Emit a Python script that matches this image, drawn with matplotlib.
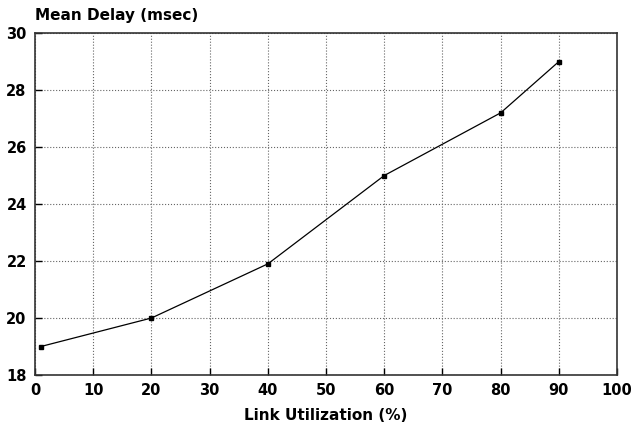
import matplotlib
matplotlib.use('Agg')
import matplotlib.pyplot as plt

# link utilization (%) vs mean delay (msec)
util = [1, 20, 40, 60, 80, 90]
delay = [19.0, 20.0, 21.9, 25.0, 27.2, 29.0]
xticks = [0, 10, 20, 30, 40, 50, 60, 70, 80, 90, 100]
yticks = [18, 20, 22, 24, 26, 28, 30]

plt.rcParams['font.family'] = ['DejaVu Sans']
plt.rcParams['font.weight'] = 'bold'

fig = plt.figure(figsize=(6.31, 4.25), dpi=100)
ax = fig.add_axes([0.0555, 0.1176, 0.9225, 0.8047])

ax.plot(util, delay, color='black', linewidth=0.9, marker='s', markersize=3)

ax.set_xlim(0, 100)
ax.set_ylim(18, 30)
ax.set_xticks(xticks)
ax.set_yticks(yticks)
ax.tick_params(direction='in', length=5, width=1, labelsize=10.5, pad=6)
for lbl in ax.get_xticklabels() + ax.get_yticklabels():
    lbl.set_fontweight('bold')
ax.grid(True, linestyle=':', color='#666666', linewidth=0.8)
for s in ax.spines.values():
    s.set_linewidth(1.2)
    s.set_color('#333333')

ax.set_xlabel('Link Utilization (%)', fontsize=11, fontweight='bold', labelpad=7)
fig.text(0.0555, 0.945, 'Mean Delay (msec)', fontsize=11, fontweight='bold', ha='left', va='bottom')

fig.savefig('out.png', dpi=100)
